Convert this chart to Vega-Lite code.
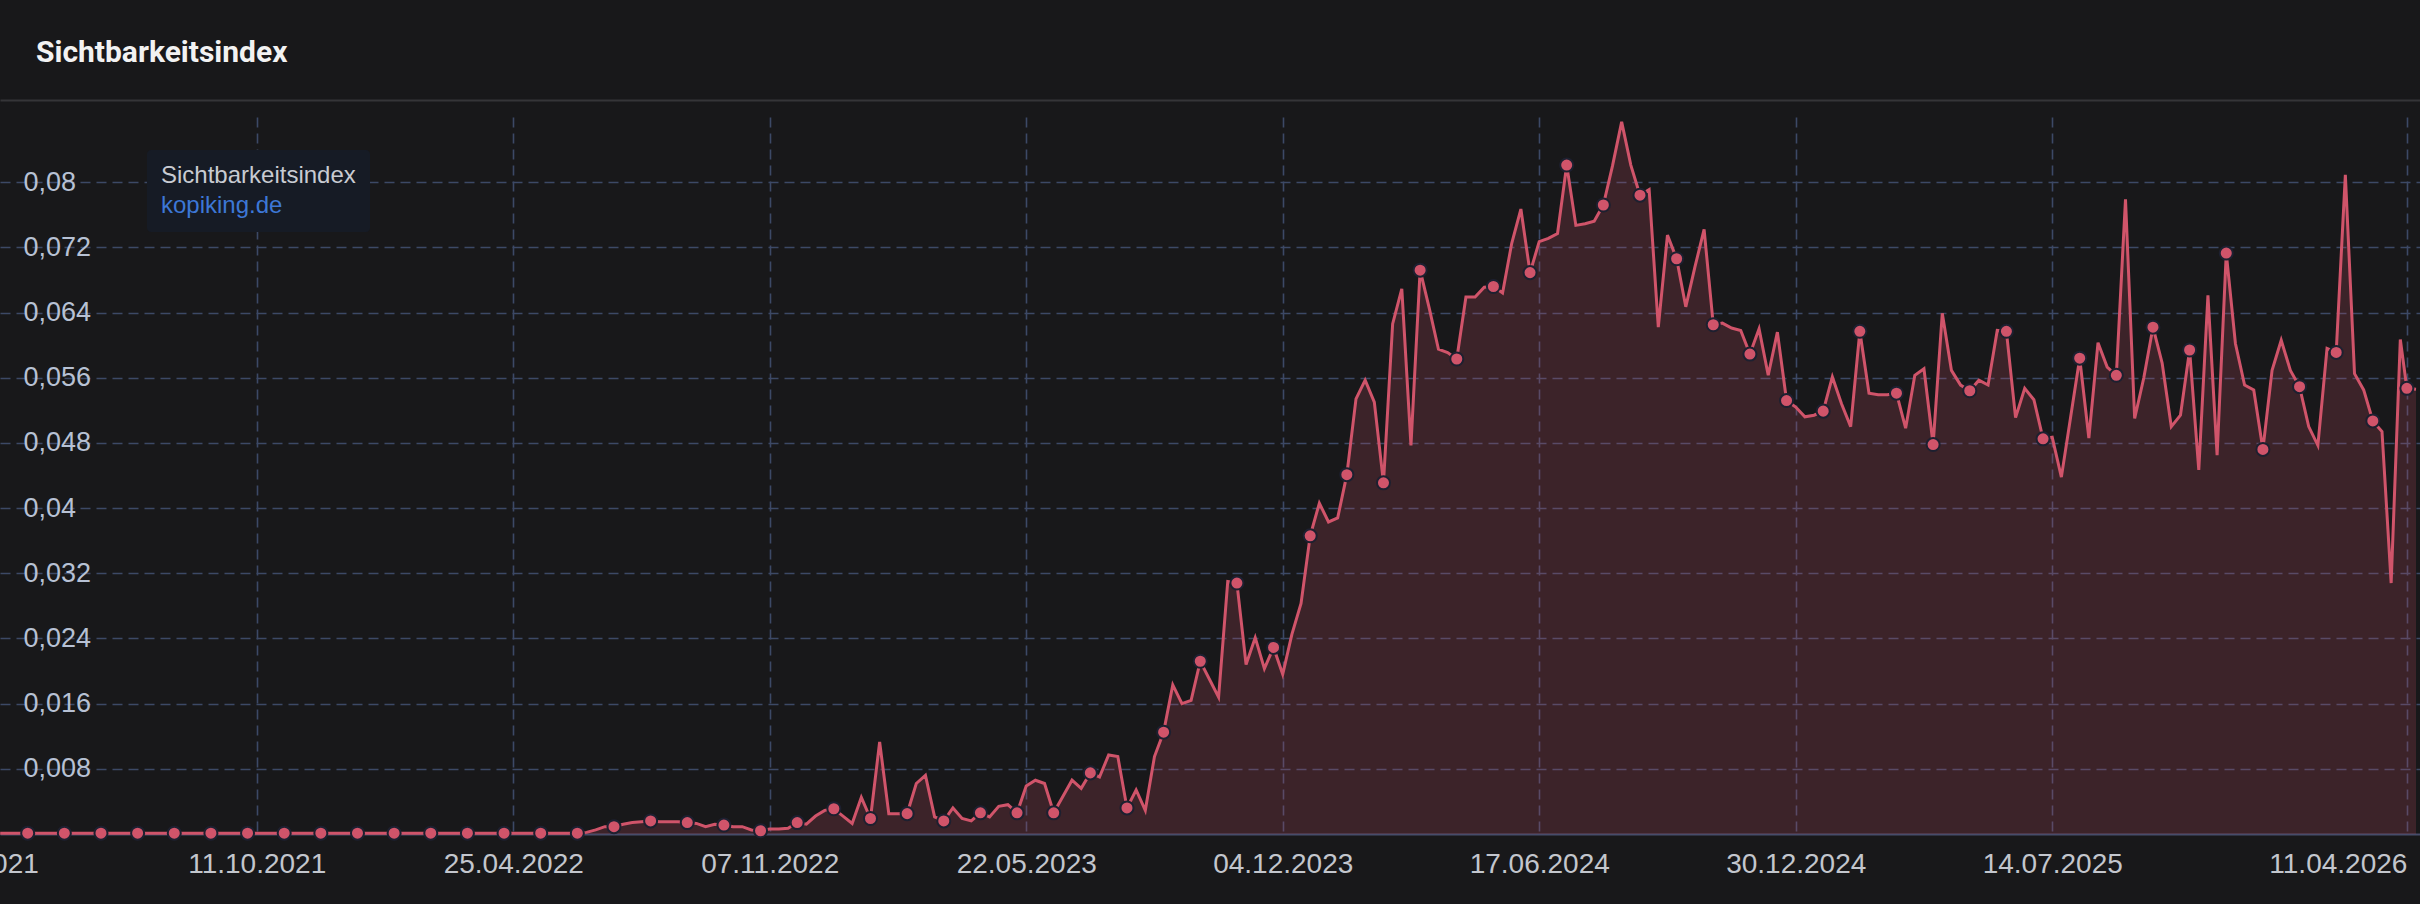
{
"$schema": "https://vega.github.io/schema/vega-lite/v6.json",
"autosize": "none",
"padding": {"left": 0, "top": 117, "right": 0, "bottom": 70},
"width": 2420,
"height": 717,
"background": "#18181a",
"title": {"text": "Sichtbarkeitsindex", "anchor": "start", "frame": "group", "font": "Roboto", "fontSize": 30, "fontWeight": "bold", "color": "#f2f2f2", "baseline": "alphabetic", "offset": 8, "dx": 36},
"datasets": {"si": [
{"d":"2021-03-29","v":0.0001},{"d":"2021-04-05","v":0.0001},{"d":"2021-04-12","v":0.0001},{"d":"2021-04-19","v":0.0001},{"d":"2021-04-26","v":0.0001},{"d":"2021-05-03","v":0.0001},{"d":"2021-05-10","v":0.0001},{"d":"2021-05-17","v":0.0001},{"d":"2021-05-24","v":0.0001},{"d":"2021-05-31","v":0.0001},{"d":"2021-06-07","v":0.0001},{"d":"2021-06-14","v":0.0001},{"d":"2021-06-21","v":0.0001},{"d":"2021-06-28","v":0.0001},{"d":"2021-07-05","v":0.0001},{"d":"2021-07-12","v":0.0001},{"d":"2021-07-19","v":0.0001},{"d":"2021-07-26","v":0.0001},{"d":"2021-08-02","v":0.0001},{"d":"2021-08-09","v":0.0001},{"d":"2021-08-16","v":0.0001},{"d":"2021-08-23","v":0.0001},{"d":"2021-08-30","v":0.0001},{"d":"2021-09-06","v":0.0001},{"d":"2021-09-13","v":0.0001},{"d":"2021-09-20","v":0.0001},{"d":"2021-09-27","v":0.0001},{"d":"2021-10-04","v":0.0001},
{"d":"2021-10-11","v":0.0001},{"d":"2021-10-18","v":0.0001},{"d":"2021-10-25","v":0.0001},{"d":"2021-11-01","v":0.0001},{"d":"2021-11-08","v":0.0001},{"d":"2021-11-15","v":0.0001},{"d":"2021-11-22","v":0.0001},{"d":"2021-11-29","v":0.0001},{"d":"2021-12-06","v":0.0001},{"d":"2021-12-13","v":0.0001},{"d":"2021-12-20","v":0.0001},{"d":"2021-12-27","v":0.0001},{"d":"2022-01-03","v":0.0001},{"d":"2022-01-10","v":0.0001},{"d":"2022-01-17","v":0.0001},{"d":"2022-01-24","v":0.0001},{"d":"2022-01-31","v":0.0001},{"d":"2022-02-07","v":0.0001},{"d":"2022-02-14","v":0.0001},{"d":"2022-02-21","v":0.0001},{"d":"2022-02-28","v":0.0001},{"d":"2022-03-07","v":0.0001},{"d":"2022-03-14","v":0.0001},{"d":"2022-03-21","v":0.0001},{"d":"2022-03-28","v":0.0001},{"d":"2022-04-04","v":0.0001},{"d":"2022-04-11","v":0.0001},{"d":"2022-04-18","v":0.0001},
{"d":"2022-04-25","v":0.0001},{"d":"2022-05-02","v":0.0001},{"d":"2022-05-09","v":0.0001},{"d":"2022-05-16","v":0.0001},{"d":"2022-05-23","v":0.0001},{"d":"2022-05-30","v":0.0001},{"d":"2022-06-06","v":0.0001},{"d":"2022-06-13","v":0.0001},{"d":"2022-06-20","v":0.0002},{"d":"2022-06-27","v":0.0005},{"d":"2022-07-04","v":0.0009},{"d":"2022-07-11","v":0.0009},{"d":"2022-07-18","v":0.0012},{"d":"2022-07-25","v":0.0014},{"d":"2022-08-01","v":0.0015},{"d":"2022-08-08","v":0.0016},{"d":"2022-08-15","v":0.0015},{"d":"2022-08-22","v":0.0015},{"d":"2022-08-29","v":0.0015},{"d":"2022-09-05","v":0.0014},{"d":"2022-09-12","v":0.0013},{"d":"2022-09-19","v":0.0009},{"d":"2022-09-26","v":0.0012},{"d":"2022-10-03","v":0.0011},{"d":"2022-10-10","v":0.0009},{"d":"2022-10-17","v":0.0009},{"d":"2022-10-24","v":0.0005},{"d":"2022-10-31","v":0.0004},
{"d":"2022-11-07","v":0.0006},{"d":"2022-11-14","v":0.0006},{"d":"2022-11-21","v":0.0007},{"d":"2022-11-28","v":0.0014},{"d":"2022-12-05","v":0.0012},{"d":"2022-12-12","v":0.0022},{"d":"2022-12-19","v":0.0029},{"d":"2022-12-26","v":0.0031},{"d":"2023-01-02","v":0.0022},{"d":"2023-01-09","v":0.0013},{"d":"2023-01-16","v":0.0045},{"d":"2023-01-23","v":0.0019},{"d":"2023-01-30","v":0.0113},{"d":"2023-02-06","v":0.0025},{"d":"2023-02-13","v":0.0025},{"d":"2023-02-20","v":0.0025},{"d":"2023-02-27","v":0.0062},{"d":"2023-03-06","v":0.0072},{"d":"2023-03-13","v":0.0021},{"d":"2023-03-20","v":0.0016},{"d":"2023-03-27","v":0.0032},{"d":"2023-04-03","v":0.0019},{"d":"2023-04-10","v":0.0016},{"d":"2023-04-17","v":0.0026},{"d":"2023-04-24","v":0.0021},{"d":"2023-05-01","v":0.0034},{"d":"2023-05-08","v":0.0036},{"d":"2023-05-15","v":0.0026},
{"d":"2023-05-22","v":0.0059},{"d":"2023-05-29","v":0.0066},{"d":"2023-06-05","v":0.0062},{"d":"2023-06-12","v":0.0026},{"d":"2023-06-19","v":0.0046},{"d":"2023-06-26","v":0.0066},{"d":"2023-07-03","v":0.0056},{"d":"2023-07-10","v":0.0075},{"d":"2023-07-17","v":0.0070},{"d":"2023-07-24","v":0.0097},{"d":"2023-07-31","v":0.0095},{"d":"2023-08-07","v":0.0032},{"d":"2023-08-14","v":0.0054},{"d":"2023-08-21","v":0.0029},{"d":"2023-08-28","v":0.0095},{"d":"2023-09-04","v":0.0125},{"d":"2023-09-11","v":0.0183},{"d":"2023-09-18","v":0.0160},{"d":"2023-09-25","v":0.0164},{"d":"2023-10-02","v":0.0212},{"d":"2023-10-09","v":0.0190},{"d":"2023-10-16","v":0.0168},{"d":"2023-10-23","v":0.0310},{"d":"2023-10-30","v":0.0308},{"d":"2023-11-06","v":0.0208},{"d":"2023-11-13","v":0.0241},{"d":"2023-11-20","v":0.0203},{"d":"2023-11-27","v":0.0229},
{"d":"2023-12-04","v":0.0196},{"d":"2023-12-11","v":0.0245},{"d":"2023-12-18","v":0.0283},{"d":"2023-12-25","v":0.0366},{"d":"2024-01-01","v":0.0406},{"d":"2024-01-08","v":0.0383},{"d":"2024-01-15","v":0.0388},{"d":"2024-01-22","v":0.0441},{"d":"2024-01-29","v":0.0534},{"d":"2024-02-05","v":0.0557},{"d":"2024-02-12","v":0.0530},{"d":"2024-02-19","v":0.0431},{"d":"2024-02-26","v":0.0626},{"d":"2024-03-04","v":0.0669},{"d":"2024-03-11","v":0.0477},{"d":"2024-03-18","v":0.0692},{"d":"2024-03-25","v":0.0645},{"d":"2024-04-01","v":0.0595},{"d":"2024-04-08","v":0.0591},{"d":"2024-04-15","v":0.0583},{"d":"2024-04-22","v":0.0659},{"d":"2024-04-29","v":0.0659},{"d":"2024-05-06","v":0.0671},{"d":"2024-05-13","v":0.0672},{"d":"2024-05-20","v":0.0664},{"d":"2024-05-27","v":0.0725},{"d":"2024-06-03","v":0.0767},{"d":"2024-06-10","v":0.0689},
{"d":"2024-06-17","v":0.0727},{"d":"2024-06-24","v":0.0731},{"d":"2024-07-01","v":0.0737},{"d":"2024-07-08","v":0.0821},{"d":"2024-07-15","v":0.0747},{"d":"2024-07-22","v":0.0749},{"d":"2024-07-29","v":0.0752},{"d":"2024-08-05","v":0.0772},{"d":"2024-08-12","v":0.0820},{"d":"2024-08-19","v":0.0874},{"d":"2024-08-26","v":0.0821},{"d":"2024-09-02","v":0.0784},{"d":"2024-09-09","v":0.0791},{"d":"2024-09-16","v":0.0622},{"d":"2024-09-23","v":0.0735},{"d":"2024-09-30","v":0.0706},{"d":"2024-10-07","v":0.0647},{"d":"2024-10-14","v":0.0696},{"d":"2024-10-21","v":0.0742},{"d":"2024-10-28","v":0.0625},{"d":"2024-11-04","v":0.0627},{"d":"2024-11-11","v":0.0621},{"d":"2024-11-18","v":0.0618},{"d":"2024-11-25","v":0.0589},{"d":"2024-12-02","v":0.0620},{"d":"2024-12-09","v":0.0563},{"d":"2024-12-16","v":0.0616},{"d":"2024-12-23","v":0.0532},
{"d":"2024-12-30","v":0.0524},{"d":"2025-01-06","v":0.0512},{"d":"2025-01-13","v":0.0514},{"d":"2025-01-20","v":0.0519},{"d":"2025-01-27","v":0.0561},{"d":"2025-02-03","v":0.0528},{"d":"2025-02-10","v":0.0500},{"d":"2025-02-17","v":0.0617},{"d":"2025-02-24","v":0.0541},{"d":"2025-03-03","v":0.0539},{"d":"2025-03-10","v":0.0539},{"d":"2025-03-17","v":0.0541},{"d":"2025-03-24","v":0.0498},{"d":"2025-03-31","v":0.0563},{"d":"2025-04-07","v":0.0571},{"d":"2025-04-14","v":0.0478},{"d":"2025-04-21","v":0.0639},{"d":"2025-04-28","v":0.0569},{"d":"2025-05-05","v":0.0551},{"d":"2025-05-12","v":0.0544},{"d":"2025-05-19","v":0.0557},{"d":"2025-05-26","v":0.0551},{"d":"2025-06-02","v":0.0618},{"d":"2025-06-09","v":0.0617},{"d":"2025-06-16","v":0.0511},{"d":"2025-06-23","v":0.0547},{"d":"2025-06-30","v":0.0533},{"d":"2025-07-07","v":0.0485},
{"d":"2025-07-14","v":0.0487},{"d":"2025-07-21","v":0.0438},{"d":"2025-07-28","v":0.0511},{"d":"2025-08-04","v":0.0584},{"d":"2025-08-11","v":0.0486},{"d":"2025-08-18","v":0.0603},{"d":"2025-08-25","v":0.0573},{"d":"2025-09-01","v":0.0563},{"d":"2025-09-08","v":0.0779},{"d":"2025-09-15","v":0.0510},{"d":"2025-09-22","v":0.0560},{"d":"2025-09-29","v":0.0622},{"d":"2025-10-06","v":0.0578},{"d":"2025-10-13","v":0.0500},{"d":"2025-10-20","v":0.0514},{"d":"2025-10-27","v":0.0594},{"d":"2025-11-03","v":0.0447},{"d":"2025-11-10","v":0.0661},{"d":"2025-11-17","v":0.0465},{"d":"2025-11-24","v":0.0713},{"d":"2025-12-01","v":0.0602},{"d":"2025-12-08","v":0.0551},{"d":"2025-12-15","v":0.0545},{"d":"2025-12-22","v":0.0472},{"d":"2025-12-29","v":0.0569},{"d":"2026-01-05","v":0.0606},{"d":"2026-01-12","v":0.0569},{"d":"2026-01-19","v":0.0549},
{"d":"2026-01-26","v":0.0500},{"d":"2026-02-02","v":0.0477},{"d":"2026-02-09","v":0.0596},{"d":"2026-02-16","v":0.0591},{"d":"2026-02-23","v":0.0809},{"d":"2026-03-02","v":0.0565},{"d":"2026-03-09","v":0.0545},{"d":"2026-03-16","v":0.0507},{"d":"2026-03-23","v":0.0494},{"d":"2026-03-30","v":0.0308},{"d":"2026-04-06","v":0.0607},{"d":"2026-04-11","v":0.0547},{"d":"2026-04-18","v":0.0546}
]},
"data": {"name": "si"},
"encoding": {
"y": {"field": "v", "type": "quantitative",
"scale": {"domain": [0, 0.088], "nice": false, "zero": true},
"axis": {"title": null, "orient": "left",
"values": [0.008, 0.016, 0.024, 0.032, 0.04, 0.048, 0.056, 0.064, 0.072, 0.08],
"labelExpr": "replace(format(datum.value, '.3~f'), '.', ',')",
"labelAlign": "left", "labelBaseline": "middle", "labelPadding": -23, "labelBound": false, "labelOverlap": false,
"labelFont": "Liberation Sans", "labelFontSize": 27, "labelColor": "#b7c1d4",
"ticks": false, "domain": false,
"grid": true, "gridColor": "#3c4966", "gridDash": [10, 6], "gridWidth": 1.6}}
},
"layer": [
{
"mark": {"type": "area", "color": "#cf5168", "opacity": 0.2},
"encoding": {
"x": {"field": "d", "type": "temporal",
"scale": {"type": "utc", "domain": [{"year": 2021, "month": 3, "date": 28, "hours": 20, "utc": true}, {"year": 2026, "month": 4, "date": 21, "hours": 1, "utc": true}]},
"axis": {"title": null, "orient": "bottom",
"values": [{"year": 2021, "month": 3, "date": 29, "utc": true}, {"year": 2021, "month": 10, "date": 11, "utc": true}, {"year": 2022, "month": 4, "date": 25, "utc": true}, {"year": 2022, "month": 11, "date": 7, "utc": true}, {"year": 2023, "month": 5, "date": 22, "utc": true}, {"year": 2023, "month": 12, "date": 4, "utc": true}, {"year": 2024, "month": 6, "date": 17, "utc": true}, {"year": 2024, "month": 12, "date": 30, "utc": true}, {"year": 2025, "month": 7, "date": 14, "utc": true}, {"year": 2026, "month": 4, "date": 11, "utc": true}],
"labelExpr": "utcFormat(datum.value, '%d.%m.%Y')",
"labelFont": "Liberation Sans", "labelFontSize": 28, "labelColor": "#c3c6cd", "labelPadding": 16,
"labelOverlap": false, "labelFlush": false, "labelBound": false,
"labelAlign": {"condition": {"test": "datum.value > utc(2026,0,1)", "value": "right"}, "value": "center"},
"labelOffset": {"condition": {"test": "datum.value < utc(2021,5,1)", "value": -32}, "value": 0},
"ticks": false, "domain": true, "domainColor": "#474c6a", "domainWidth": 2,
"grid": true, "gridColor": "#3c4966", "gridDash": [10, 6], "gridWidth": 1.6,
"gridOpacity": {"condition": {"test": "datum.value < utc(2021,5,1)", "value": 0}, "value": 1}}}
}
},
{
"mark": {"type": "line", "strokeWidth": 3},
"encoding": {
"x": {"field": "d", "type": "temporal",
"scale": {"type": "utc", "domain": [{"year": 2021, "month": 3, "date": 28, "hours": 20, "utc": true}, {"year": 2026, "month": 4, "date": 21, "hours": 1, "utc": true}]},
"axis": {"title": null, "orient": "top", "offset": 17, "domain": true, "domainColor": "#353538", "domainWidth": 2, "ticks": false, "labels": false, "grid": false}},
"color": {"datum": "kopiking.de", "scale": {"range": ["#d0546a"]},
"legend": {"title": "Sichtbarkeitsindex", "orient": "none", "legendX": 147, "legendY": 33, "columns": 1,
"fillColor": "#161b25", "padding": 14, "cornerRadius": 4,
"titleFont": "Liberation Sans", "titleFontSize": 24, "titleFontWeight": "normal", "titleColor": "#c8cbd2", "titlePadding": 6, "titleLimit": 600, "titleAnchor": "start",
"labelFont": "Liberation Sans", "labelFontSize": 24, "labelColor": "#3d77d6", "labelOffset": -24, "labelAlign": "left", "labelLimit": 600,
"symbolType": "circle", "symbolSize": 0, "symbolStrokeWidth": 0, "symbolOpacity": 0}}
}
},
{
"transform": [{"window": [{"op": "row_number", "as": "rn"}], "sort": [{"field": "d"}]}, {"filter": "datum.rn % 4 == 0"}],
"mark": {"type": "point", "filled": true, "fill": "#d0546a", "stroke": "#1d2030", "strokeWidth": 2, "size": 170, "opacity": 1},
"encoding": {
"x": {"field": "d", "type": "temporal",
"scale": {"type": "utc", "domain": [{"year": 2021, "month": 3, "date": 28, "hours": 20, "utc": true}, {"year": 2026, "month": 4, "date": 21, "hours": 1, "utc": true}]},
"axis": null}
}
}
],
"resolve": {"axis": {"x": "independent"}},
"config": {"view": {"stroke": null}}
}
